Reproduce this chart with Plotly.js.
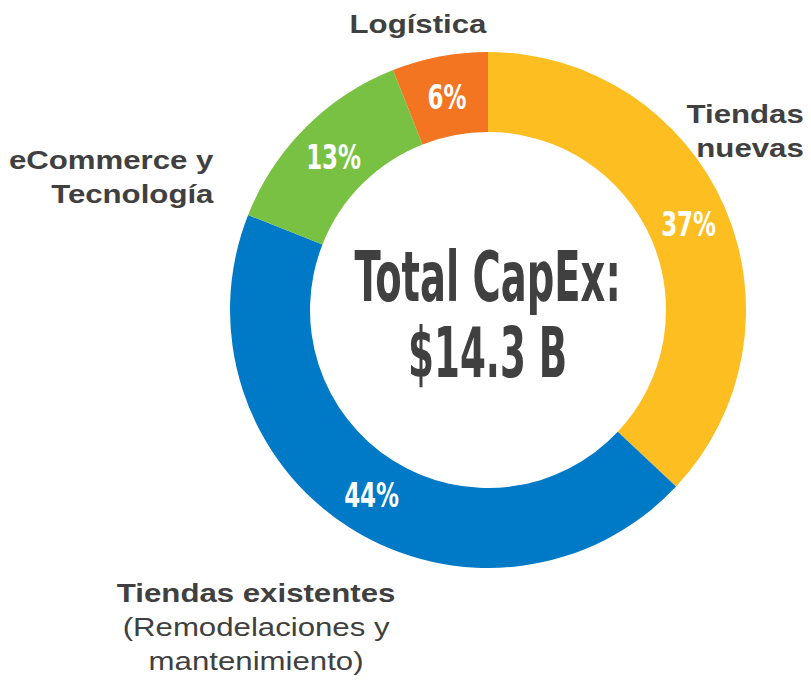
<!DOCTYPE html>
<html>
<head>
<meta charset="utf-8">
<script src="https://cdn.plot.ly/plotly-3.0.1.min.js"></script>
<style>html,body{margin:0;padding:0;background:#fff;}#chart{width:811px;height:680px;}</style>
</head>
<body>
<div id="chart"></div>
<script>
var categories = ["Tiendas nuevas", "Tiendas existentes", "eCommerce y Tecnología", "Logística"];
var values = [37, 44, 13, 6];
var colors = ["#FDBE22", "#0079C6", "#79C143", "#F37421"];
var centerLines = ["Total CapEx:", "$14.3 B"];
var outerLabels = [
  {text: "<b>Tiendas</b><br><b>nuevas</b>", x: 806, y: 131, xanchor: "right", align: "right"},
  {text: "<b>Tiendas existentes</b><br>(Remodelaciones y<br>mantenimiento)", x: 256, y: 627, xanchor: "center", align: "center"},
  {text: "<b>eCommerce y</b><br><b>Tecnología</b>", x: 216, y: 177, xanchor: "right", align: "right"},
  {text: "<b>Logística</b>", x: 418, y: 24, xanchor: "center", align: "center"}
];

var W = 811, H = 680;
var CX = 488, CY = 310, R = 258, HOLE = 0.69;
var cond = "'DejaVu Sans Condensed', 'DejaVu Sans', sans-serif";
var annotations = [];
var scales = [];

// outer category labels
outerLabels.forEach(function (l) {
  annotations.push({
    text: l.text, xref: "paper", yref: "paper",
    x: l.x / W, y: 1 - l.y / H, xanchor: l.xanchor, yanchor: "middle", align: l.align,
    showarrow: false,
    font: {family: "'Liberation Sans', Arial, sans-serif", size: 26, color: "#404040"}
  });
  scales.push({sx: 1.2, anchor: l.xanchor});
});

// percentage labels, placed at each slice's mid-angle on the middle of the ring
var total = values.reduce(function (a, b) { return a + b; }, 0);
var cum = 0;
var rMid = R * (1 + HOLE) / 2;
values.forEach(function (v) {
  var mid = (cum + v / 2) / total * 2 * Math.PI;
  cum += v;
  var px = CX + rMid * Math.sin(mid);
  var py = CY - rMid * Math.cos(mid);
  annotations.push({
    text: "<b>" + Math.round(v / total * 100) + "%</b>", xref: "paper", yref: "paper",
    x: px / W, y: 1 - (py + 1) / H, xanchor: "center", yanchor: "middle",
    showarrow: false,
    font: {family: cond, size: 34, color: "#FFFFFF"}
  });
  scales.push({sx: 0.75, anchor: "center"});
});

// centre text
var centerY = [277, 353];
var centerScale = [0.62, 0.6];
centerLines.forEach(function (t, i) {
  annotations.push({
    text: "<b>" + t + "</b>", xref: "paper", yref: "paper",
    x: CX / W, y: 1 - centerY[i] / H, xanchor: "center", yanchor: "middle",
    showarrow: false,
    font: {family: cond, size: 69, color: "#404040"}
  });
  scales.push({sx: centerScale[i], anchor: "center"});
});

var trace = {
  type: "pie",
  labels: categories,
  values: values,
  sort: false,
  direction: "clockwise",
  rotation: 0,
  hole: HOLE,
  marker: {colors: colors, line: {width: 0}},
  textinfo: "none",
  domain: {x: [(CX - R) / W, (CX + R) / W], y: [(H - CY - R) / H, (H - CY + R) / H]},
  showlegend: false,
  hoverinfo: "none"
};

var layout = {
  width: W, height: H,
  margin: {l: 0, r: 0, t: 0, b: 0},
  paper_bgcolor: "#FFFFFF",
  showlegend: false,
  annotations: annotations
};

Plotly.newPlot("chart", [trace], layout, {staticPlot: true}).then(function () {
  var groups = document.querySelectorAll("#chart .annotation");
  groups.forEach(function (g, i) {
    var s = scales[i];
    var t = g.querySelector("text.annotation-text");
    if (!s || !t) return;
    var bb = t.getBBox();
    var ax = s.anchor === "right" ? bb.x + bb.width : (s.anchor === "left" ? bb.x : bb.x + bb.width / 2);
    var ex = t.getAttribute("transform") || "";
    t.setAttribute("transform", ex + " translate(" + ax + ",0) scale(" + s.sx + ",1) translate(" + (-ax) + ",0)");
  });
});
</script>
</body>
</html>
